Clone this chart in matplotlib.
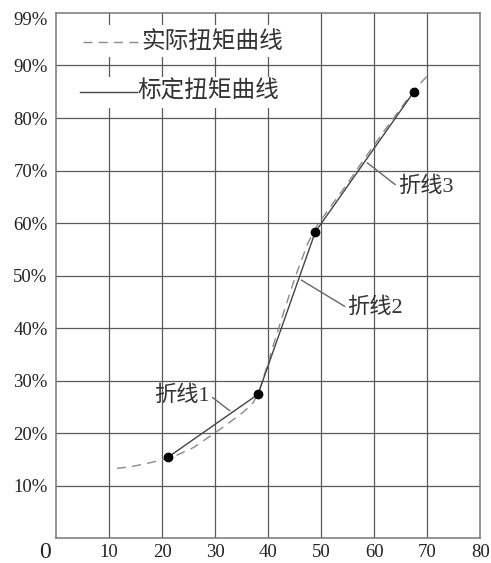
import numpy as np
import matplotlib
matplotlib.use("Agg")
from matplotlib import pyplot as plt
from matplotlib.patches import Rectangle

plt.rcParams["font.family"] = ["Liberation Serif", "Noto Sans CJK SC"]

# 标定扭矩曲线（折线端点）
turning_x = [21.1, 38.1, 48.9, 67.5]
turning_y = [15.4, 27.4, 58.3, 85.0]

# 实际扭矩曲线
actual_x = [11.5, 14, 17, 20, 23, 26, 29.6, 32, 35.3, 37.2, 38.4, 39.4, 41, 43,
            45.1, 47.5, 49.4, 52, 55, 58, 62, 66, 68, 70.2]
actual_y = [13.3, 13.6, 14.2, 14.9, 15.9, 17.3, 19.8, 21.5, 24.0, 25.8, 28.3,
            31.4, 36.8, 43.2, 49.7, 56.2, 59.8, 63.4, 67.6, 72.0, 77.7, 83.2,
            85.8, 88.2]

x_ticks = [10, 20, 30, 40, 50, 60, 70, 80]
y_ticks = [10, 20, 30, 40, 50, 60, 70, 80, 90, 99]
y_labels = ["10%", "20%", "30%", "40%", "50%", "60%", "70%", "80%", "90%", "99%"]

# 折线标注: (文字, 文字位置, 引线落点x, 对齐)
segment_labels = [
    ("折线1", (29.0, 27.2), 33.2, "right"),
    ("折线2", (55.0, 43.8), 45.8, "left"),
    ("折线3", (64.5, 66.9), 58.3, "left"),
]

grid_color = "#5a5a5a"
text_color = "#222222"

fig = plt.figure(figsize=(4.91, 5.63), dpi=100)
ax = fig.add_axes([0.114, 0.044, 0.864, 0.933])
ax.set_xlim(0, 80)
ax.set_ylim(0, 100)

ax.set_xticks(x_ticks)
ax.set_xticklabels([str(v) for v in x_ticks], fontsize=13.5, color=text_color)
ax.set_yticks(y_ticks)
ax.set_yticklabels(y_labels, fontsize=13.5, color=text_color)
ax.tick_params(axis="y", length=0, pad=6)
ax.tick_params(axis="x", length=0, pad=4)

ax.set_axisbelow(True)
ax.grid(True, color=grid_color, linewidth=0.9)
ax.get_ygridlines()[-1].set_visible(False)
ax.get_xgridlines()[-1].set_visible(False)
for spine in ax.spines.values():
    spine.set_color("#777777")
    spine.set_linewidth(1.1)

ax.annotate("0", xy=(0, 0), xytext=(-8, -10), textcoords="offset points",
            ha="center", va="center", fontsize=17, color=text_color)

# 曲线
ax.plot(actual_x, actual_y, color="#8a8a8a", linewidth=1.0,
        dashes=(6.5, 4.5), zorder=3)
ax.plot(turning_x, turning_y, color="#444444", linewidth=1.0, zorder=4)
ax.scatter(turning_x, turning_y, s=36, color="black", zorder=5)

# 图例（白底遮住网格）
ax.add_patch(Rectangle((0.3, 91.6), 43.7, 6.1, facecolor="white",
                       edgecolor="none", zorder=1))
ax.add_patch(Rectangle((0.3, 81.9), 43.7, 5.9, facecolor="white",
                       edgecolor="none", zorder=1))
ax.plot([5.1, 15.8], [94.5, 94.5], color="#8a8a8a", linewidth=1.0,
        dashes=(6.5, 4.5), zorder=3)
ax.text(16.0, 94.5, "实际扭矩曲线", fontsize=17, color="#333333",
        ha="left", va="center", zorder=3)
ax.plot([4.5, 15.3], [85.0, 85.0], color="#444444", linewidth=1.0, zorder=3)
ax.text(15.4, 85.0, "标定扭矩曲线", fontsize=17, color="#333333",
        ha="left", va="center", zorder=3)

# 折线标注
for label, pos, lx, align in segment_labels:
    ly = np.interp(lx, turning_x, turning_y)
    ax.annotate(label, xy=(lx, ly), xytext=pos, fontsize=16,
                color="#333333", ha=align, va="center", zorder=6,
                arrowprops=dict(arrowstyle="-", color="#666666",
                                linewidth=1.0, shrinkA=0, shrinkB=2,
                                relpos=(1.0 if align == "right" else 0.0, 0.5)))

fig.savefig("out.png", dpi=100)
